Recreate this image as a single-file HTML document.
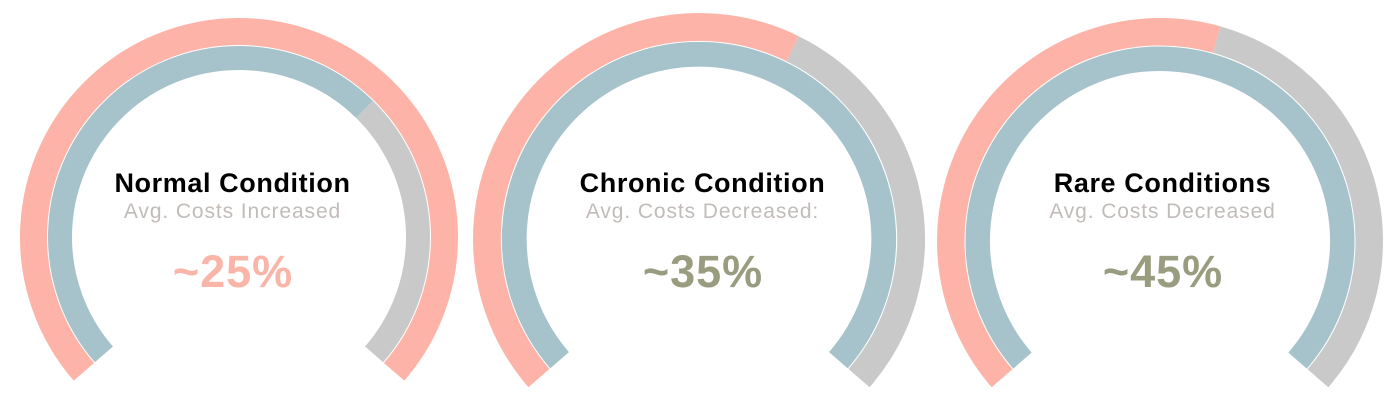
<!DOCTYPE html>
<html><head><meta charset="utf-8"><style>
html,body{margin:0;padding:0;background:#fff;width:1400px;height:400px;overflow:hidden}
svg{display:block}
</style></head><body>
<svg id="chart" width="1400" height="400" xmlns="http://www.w3.org/2000/svg"></svg>
<script>
const titles = ["Normal Condition", "Chronic Condition", "Rare Conditions"];
const subtitles = ["Avg. Costs Increased", "Avg. Costs Decreased:", "Avg. Costs Decreased"];
const valueLabels = ["~25%", "~35%", "~45%"];
const outerValues = [1.0, 0.60, 0.56];
const innerValues = [0.67, 1.0, 1.0];
const valueColors = ["#f9b5a8", "#9a9c80", "#9a9c80"];

const NS = "http://www.w3.org/2000/svg";
const svg = document.getElementById("chart");
const layout = [
  {cx:239, cy:237, r:219, tx:232},
  {cx:699, cy:239, r:226, tx:702},
  {cx:1160, cy:241, r:223, tx:1162}
];
const START = -131, SWEEP = 262;
function pt(cx, cy, r, deg){const a=(deg-90)*Math.PI/180;return [cx+r*Math.cos(a), cy+r*Math.sin(a)];}
function arcPath(cx, cy, r, a0, a1){
  const p0=pt(cx,cy,r,a0), p1=pt(cx,cy,r,a1);
  const large=(a1-a0)>180?1:0;
  return `M${p0[0]},${p0[1]} A${r},${r} 0 ${large} 1 ${p1[0]},${p1[1]}`;
}
function angle(v){return START+SWEEP*v;}
function addArc(g, cx, cy, r, w, a0, a1, color, name){
  if (a1-a0 <= 0.01) return;
  const p=document.createElementNS(NS,"path");
  p.setAttribute("d", arcPath(cx,cy,r,a0,a1));
  p.setAttribute("fill","none");
  p.setAttribute("stroke",color);
  p.setAttribute("stroke-width",w);
  
  
  g.appendChild(p);
}
function addText(g, x, y, txt, size, weight, color, ls, name){
  const t=document.createElementNS(NS,"text");
  t.setAttribute("x",x);t.setAttribute("y",y);
  t.setAttribute("text-anchor","middle");
  t.setAttribute("font-family","'Liberation Sans', 'DejaVu Sans', sans-serif");
  t.setAttribute("font-size",size);
  t.setAttribute("font-weight",weight);
  t.setAttribute("letter-spacing",ls);
  t.setAttribute("fill",color);
  t.textContent=txt;
  
  
  g.appendChild(t);
}
layout.forEach((L,i)=>{
  const g=document.createElementNS(NS,"g");
  
  
  svg.appendChild(g);
  const s=L.r/219;
  const oMid=L.r-13.5*s, oW=27*s;
  const iMid=L.r-28*s-12*s, iW=24*s;
  const oEnd=angle(outerValues[i]);
  addArc(g,L.cx,L.cy,oMid,oW,START,oEnd,"#fdb3a8","outer-value-arc");
  addArc(g,L.cx,L.cy,oMid,oW,oEnd,START+SWEEP,"#c9c9c9","outer-remainder-arc");
  const iEnd=angle(innerValues[i]);
  addArc(g,L.cx,L.cy,iMid,iW,START,iEnd,"#a6c3cb","inner-value-arc");
  addArc(g,L.cx,L.cy,iMid,iW,iEnd,START+SWEEP,"#c9c9c9","inner-remainder-arc");
  addText(g,L.tx+0.5,192,titles[i],27,"bold","#000","0.6","gauge-title");
  addText(g,L.tx+0.5,218,subtitles[i],21,"normal","#c2bcb9","0.9","gauge-subtitle");
  addText(g,L.tx+1,287,valueLabels[i],45,"bold",valueColors[i],"1","gauge-value");
});
</script>
</body></html>
